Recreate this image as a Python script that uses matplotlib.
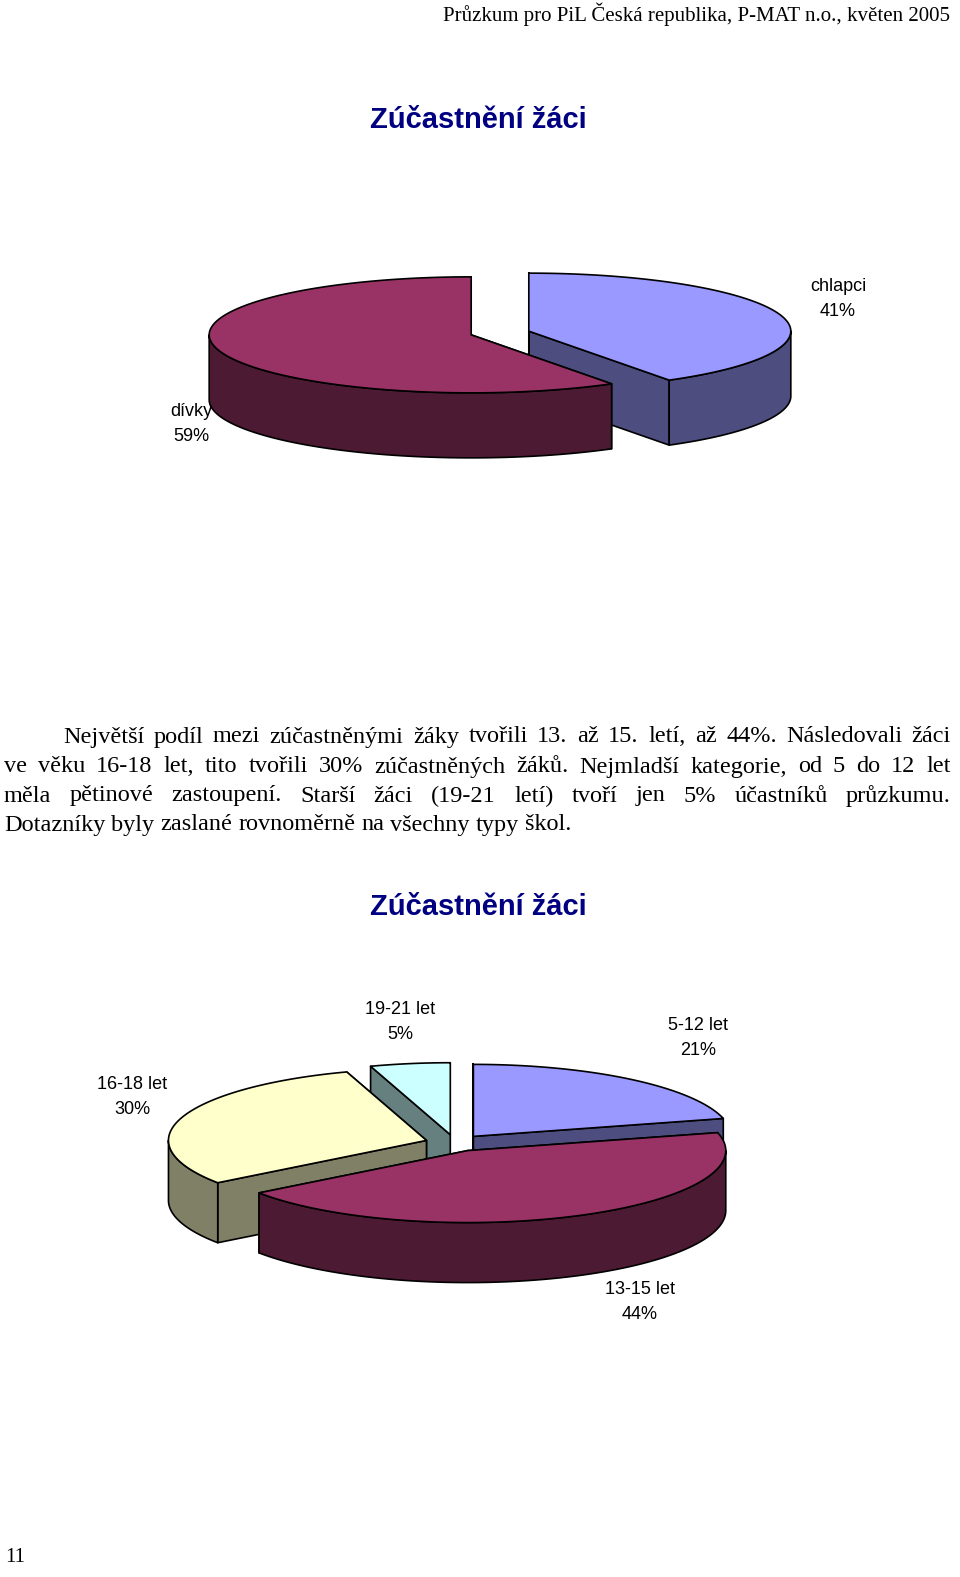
import numpy as np
import matplotlib
matplotlib.use('Agg')
import matplotlib.pyplot as plt
from matplotlib.patches import Polygon
from matplotlib.colors import to_rgb

W, H = 960, 1577

# chart 1
c1_labels = ["chlapci", "dívky"]
c1_values = [41, 59]
c1_colors = ["#9999FF", "#993366"]

# chart 2
c2_labels = ["5-12 let", "13-15 let", "16-18 let", "19-21 let"]
c2_values = [21, 44, 30, 5]
c2_colors = ["#9999FF", "#993366", "#FFFFCC", "#CCFFFF"]

header = "Průzkum pro PiL Česká republika, P-MAT n.o., květen 2005"
title = "Zúčastnění žáci"
para = [
    "Největší podíl mezi zúčastněnými žáky tvořili 13. až 15. letí, až 44%. Následovali žáci",
    "ve věku 16-18 let, tito tvořili 30% zúčastněných žáků. Nejmladší kategorie, od 5 do 12 let",
    "měla pětinové zastoupení. Starší žáci (19-21 letí) tvoří jen 5% účastníků průzkumu.",
    "Dotazníky byly zaslané rovnoměrně na všechny typy škol.",
]

fig = plt.figure(figsize=(W / 100, H / 100), dpi=100)
ax = fig.add_axes([0, 0, 1, 1])
ax.set_xlim(0, W)
ax.set_ylim(H, 0)
ax.axis('off')


def dark(c, f=0.5):
    return tuple(v * f for v in to_rgb(c))


def pt(cx, cy, rx, ry, t, dz=0):
    r = np.radians(t)
    return (cx + rx * np.cos(r), cy - ry * np.sin(r) + dz)


def pie3d(values, colors, cx, cy, rx, ry, depth, explode):
    total = sum(values)
    slices = []
    a = 90.0
    for v, c in zip(values, colors):
        span = 360.0 * v / total
        a0, a1 = a - span, a
        a = a0
        mid = np.radians((a0 + a1) / 2)
        ox, oy = explode * np.cos(mid), -explode * ry / rx * np.sin(mid)
        slices.append((a0, a1, c, cx + ox, cy + oy, np.sin(mid)))
    for a0, a1, c, sx, sy, s in sorted(slices, key=lambda q: -q[5]):
        ec = dict(edgecolor='black', linewidth=1.2, joinstyle='round')
        # radial faces
        for t in (a0, a1):
            p = pt(sx, sy, rx, ry, t)
            ax.add_patch(Polygon([(sx, sy), p, (p[0], p[1] + depth), (sx, sy + depth)],
                                 facecolor=dark(c), **ec))
        # outer side, front half only
        lo = a0 % 360
        hi = lo + (a1 - a0)
        for base in (180, 540):
            s0, s1 = max(lo, base), min(hi, base + 180)
            if s1 > s0:
                ts = np.linspace(s0, s1, 80)
                top = [pt(sx, sy, rx, ry, t) for t in ts]
                bot = [(x, y + depth) for x, y in top[::-1]]
                ax.add_patch(Polygon(top + bot, facecolor=dark(c), **ec))
        ts = np.linspace(a0, a1, 150)
        ax.add_patch(Polygon([(sx, sy)] + [pt(sx, sy, rx, ry, t) for t in ts],
                             facecolor=c, **ec))


pie3d(c1_values, c1_colors, 500, 333, 262, 58, 65, 30)
pie3d(c2_values, c2_colors, 455, 1143, 258, 72, 60, 30)

lab = dict(family=['Liberation Sans', 'DejaVu Sans'], fontsize=13, ha='center', va='center',
           linespacing=1.55)
c1_pos = [(838, 299), (191, 424)]
for (x, y), l, v in zip(c1_pos, c1_labels, c1_values):
    ax.text(x, y, f"{l}\n{v}%", **lab)
c2_pos = [(698, 1038), (640, 1302), (132, 1097), (400, 1022)]
for (x, y), l, v in zip(c2_pos, c2_labels, c2_values):
    ax.text(x, y, f"{l}\n{v}%", **lab)

serif = ['Liberation Serif', 'DejaVu Serif']
ax.text(950, 14, header, family=serif, fontsize=15, ha='right', va='center')
for y in (120, 907):
    ax.text(478, y, title, family=['Liberation Sans', 'DejaVu Sans'], fontsize=21,
            fontweight='bold', color='#000080', ha='center', va='center')
ax.text(5, 1557, "11", family=serif, fontsize=15, ha='left', va='center')

# justified paragraph
fig.canvas.draw()
rend = fig.canvas.get_renderer()
ys = [737, 767, 796, 825]
fs = 17.5
for i, (line, y) in enumerate(zip(para, ys)):
    words = line.split(' ')
    x0 = 63 if i == 0 else 4
    widths = []
    for w in words:
        t = ax.text(0, y, w, family=serif, fontsize=fs, va='center')
        widths.append(t.get_window_extent(rend).width)
        t.remove()
    if i < len(para) - 1:
        gap = (951 - x0 - sum(widths)) / (len(words) - 1)
    else:
        gap = 6
    x = x0
    for w, wd in zip(words, widths):
        ax.text(x, y, w, family=serif, fontsize=fs, va='center')
        x += wd + gap

fig.savefig('out.png', dpi=100)
